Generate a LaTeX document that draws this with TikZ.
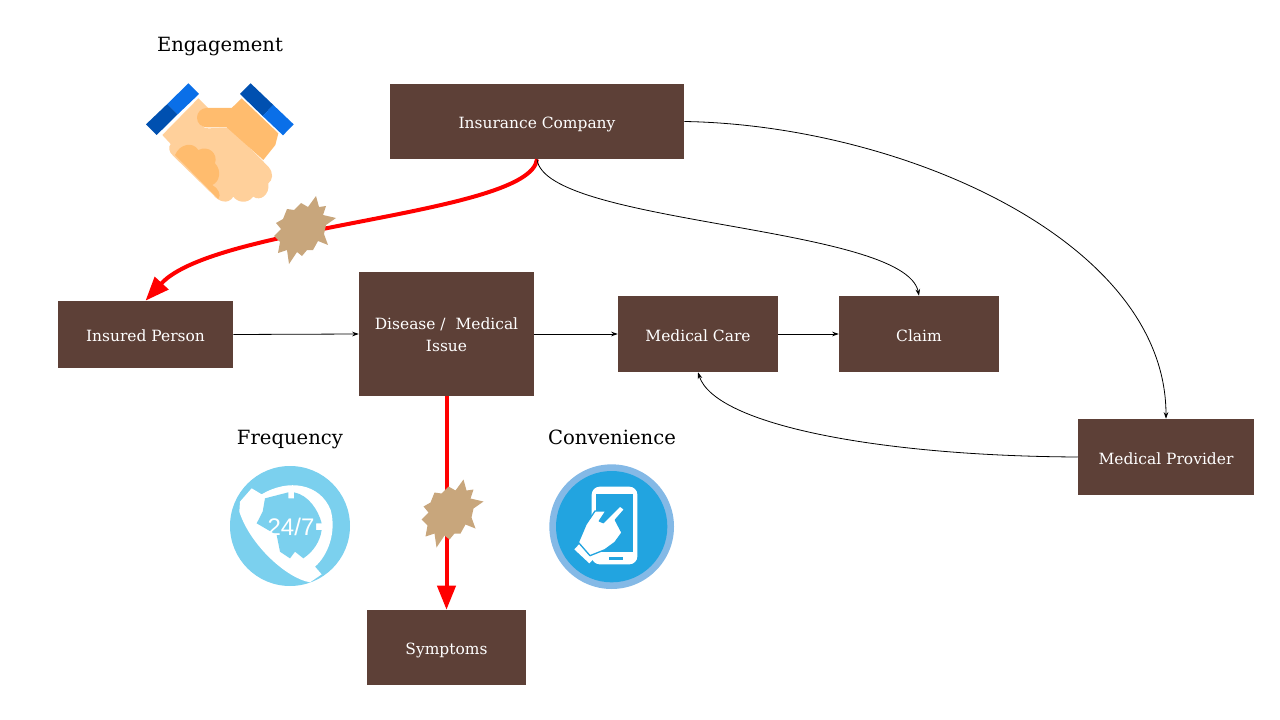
\documentclass[tikz,border=0pt]{standalone}
\usepackage{fontspec}
\setmainfont{DejaVu Serif}
\newfontfamily\iconfont{Liberation Sans}
\usetikzlibrary{arrows.meta}
\definecolor{box_brown}{HTML}{5D4037}
\definecolor{burst_tan}{HTML}{C8A67C}
\definecolor{skin_light}{HTML}{FFD09B}
\definecolor{skin_dark}{HTML}{FFBC6E}
\definecolor{cuff_dark}{HTML}{0050B0}
\definecolor{cuff_light}{HTML}{0A6FE8}
\definecolor{call_blue}{HTML}{7BD0EE}
\definecolor{touch_ring}{HTML}{84B9E6}
\definecolor{touch_blue}{HTML}{22A4E0}
\tikzset{
  box_node/.style={rectangle,fill=box_brown,text=white,inner sep=0pt,align=center,text depth=0pt,text height=10.5pt,font=\fontsize{11.6}{16.5}\selectfont},
  title_node/.style={inner sep=0pt,text depth=0pt,text height=10.5pt,font=\fontsize{14.7}{19}\selectfont},
  thin_arrow/.style={draw=black,line width=0.6pt,-{Stealth[length=5pt,width=3.5pt]}},
  red_arrow/.style={draw=red,line width=3pt,-{Triangle[length=18pt,width=13.5pt]}},
  burst_path/.pic={\fill[burst_tan] (14,-31) -- (17,-20) -- (24,-21) -- (21,-12) -- (34,-9) -- (24,-2) -- (22,7) -- (26,18) -- (16,14) -- (11,23) -- (5,23) -- (0,29) -- (-5,25) -- (-13,37) -- (-15,23) -- (-24,26) -- (-22,15) -- (-28,9) -- (-21,2) -- (-26,-4) -- (-19,-8) -- (-15,-18) -- (-8,-17) -- (-1,-24) -- (6,-20) -- cycle;}
}
\begin{document}
\begin{tikzpicture}[x=0.75pt,y=-0.75pt]
\useasboundingbox (0,0) rectangle (1280,720);

\node[box_node,minimum width=220.5pt,minimum height=56.25pt] (insurance_company) at (537,121.5) {Insurance Company};
\node[box_node,minimum width=131.25pt,minimum height=50.25pt] (insured_person) at (145.5,334.5) {Insured Person};
\node[box_node,minimum width=131.25pt,minimum height=93pt,text height=26pt] (disease) at (446.5,334) {Disease /\ \ Medical\\Issue};
\node[box_node,minimum width=120pt,minimum height=57pt] (medical_care) at (698,334) {Medical Care};
\node[box_node,minimum width=120pt,minimum height=57pt] (claim) at (919,334) {Claim};
\node[box_node,minimum width=132pt,minimum height=57pt] (medical_provider) at (1166,457) {Medical Provider};
\node[box_node,minimum width=119.25pt,minimum height=56.25pt] (symptoms) at (446.5,647.5) {Symptoms};

\node[title_node] (engagement) at (220,45) {Engagement};
\node[title_node] (frequency) at (290,437) {Frequency};
\node[title_node] (convenience) at (612,437) {Convenience};

\draw[red_arrow] (insurance_company.south) .. controls (530,215) and (215,225) .. (insured_person.north);
\draw[red_arrow] (disease.south) -- (symptoms.north);
\draw[thin_arrow] (insurance_company.south) .. controls (545,225) and (905,225) .. (claim.north);
\draw[thin_arrow] (insurance_company.east) .. controls (900,125) and (1166,240) .. (medical_provider.north);
\draw[thin_arrow] (medical_provider.west) .. controls (880,456) and (715,425) .. (medical_care.south);
\draw[thin_arrow] (insured_person.east) -- (disease.west);
\draw[thin_arrow] (disease.east) -- (medical_care.west);
\draw[thin_arrow] (medical_care.east) -- (claim.west);

\pic at (302,227) {burst_path};
\pic at (449.5,510.5) {burst_path};

\begin{scope}[shift={(130,70)},scale=1/3]
  \fill[cuff_dark] (112,102) -- (143,133) -- (80,195) -- (48,163) -- cycle;
  \fill[cuff_light] (175,40) -- (207,72) -- (143,133) -- (112,102) -- cycle;
  \fill[cuff_dark] (362,40) -- (430,105) -- (398,138) -- (330,72) -- cycle;
  \fill[cuff_light] (430,105) -- (491,163) -- (459,196) -- (398,138) -- cycle;
  \fill[skin_light] (205,85) -- (235,115) arc (270:90:30) -- (300,173) -- (415,290) .. controls (432,310) and (428,330) .. (415,340) .. controls (420,375) and (390,395) .. (370,380) .. controls (350,405) and (320,395) .. (310,380) .. controls (295,405) and (265,395) .. (250,375) -- (130,258) .. controls (115,245) and (115,230) .. (122,222) -- (97,195) -- cycle;
  \fill[skin_dark] (335,85) -- (445,190) -- (436,225) -- (400,270) -- (290,172) -- (230,172) arc (90:270:29) -- (305,114) -- cycle;
  \fill[skin_dark] (135,255) .. controls (150,220) and (190,215) .. (205,240) .. controls (235,225) and (265,250) .. (255,280) .. controls (275,300) and (270,335) .. (247,345) .. controls (265,355) and (275,375) .. (265,387) -- cycle;
\end{scope}

\begin{scope}[shift={(220,455)},scale=1/3]
  \fill[call_blue] (210,213) circle (180);
  \fill[white] (95,100) -- (125,118) .. controls (205,70) and (300,85) .. (332,165) .. controls (350,230) and (325,300) .. (285,335) -- (305,358) -- (270,382) .. controls (200,370) and (90,270) .. (58,170) -- (60,140) -- cycle;
  \fill[call_blue] (135,130) -- (205,112) -- (205,130) -- (222,130) -- (222,112) .. controls (265,120) and (295,165) .. (305,205) -- (288,205) -- (288,225) -- (305,225) .. controls (300,260) and (280,290) .. (250,310) -- (225,290) -- (210,310) -- (180,290) -- (170,240) -- (110,205) -- (128,170) -- cycle;
\end{scope}
\node[inner sep=0pt,text=white,font=\iconfont\fontsize{18}{18}\selectfont] (call_text) at (291,527) {24/7};

\begin{scope}[shift={(540,455)},scale=1/3]
  \fill[touch_ring] (215,215) circle (187);
  \fill[touch_blue] (215,215) circle (167);
  \fill[white,rounded corners=6pt] (155,95) rectangle (292,328);
  \fill[touch_blue] (167,118) rectangle (280,290);
  \fill[touch_blue] (207,306) rectangle (248,314);
  \fill[white] (103,283) -- (120,265) -- (165,308) -- (148,325) -- cycle;
  \filldraw[fill=white,draw=touch_blue,line width=1pt,line join=round] (240,153) -- (254,163) -- (226,195) -- (246,233) -- (225,262) -- (195,284) -- (150,302) -- (115,262) -- (138,208) -- (165,168) -- (198,168) -- (178,198) -- (190,203) -- cycle;
\end{scope}
\end{tikzpicture}
\end{document}
